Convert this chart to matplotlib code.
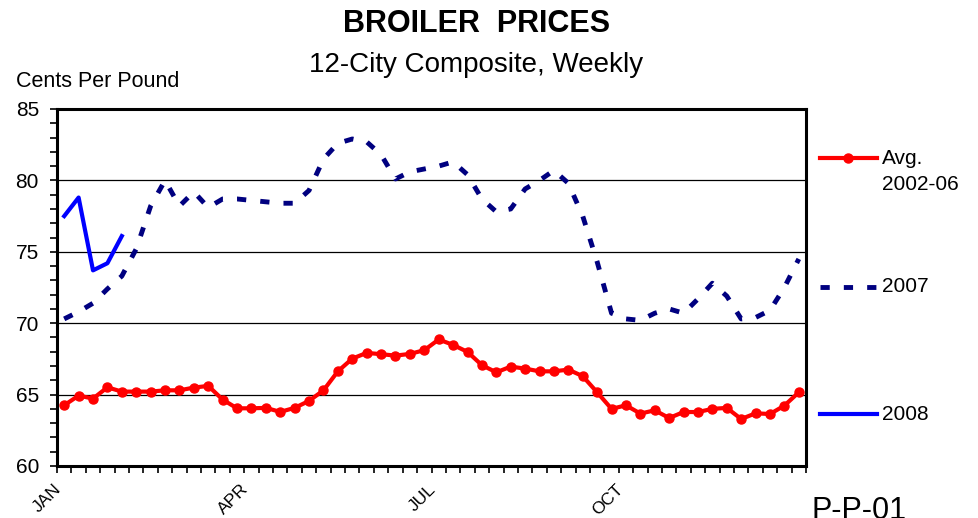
import matplotlib
matplotlib.use("Agg")
import matplotlib.pyplot as plt
import matplotlib.transforms as mtransforms
from matplotlib.lines import Line2D
from matplotlib.ticker import MultipleLocator
import numpy as np

# ---------------- data ----------------
avg_2002_06 = [64.25, 64.93, 64.72, 65.51, 65.21, 65.21, 65.21, 65.30, 65.30, 65.49,
               65.61, 64.65, 64.04, 64.04, 64.07, 63.79, 64.07, 64.56, 65.30, 66.63,
               67.52, 67.92, 67.83, 67.73, 67.85, 68.11, 68.86, 68.48, 67.99, 67.06,
               66.56, 66.96, 66.82, 66.63, 66.63, 66.75, 66.29, 65.16, 64.00, 64.25,
               63.67, 63.90, 63.36, 63.78, 63.78, 64.00, 64.07, 63.29, 63.69, 63.64,
               64.23, 65.16]
y2007 = [70.3, 70.8, 71.4, 72.4, 73.3, 75.2, 78.2, 80.0, 78.2, 79.2,
         78.1, 78.7, 78.7, 78.6, 78.5, 78.4, 78.4, 79.3, 81.5, 82.6,
         82.9, 82.7, 81.8, 80.1, 80.6, 80.8, 81.0, 81.3, 80.4, 78.7,
         77.8, 78.0, 79.4, 80.0, 80.7, 79.8, 77.5, 74.3, 70.7, 70.3,
         70.2, 70.7, 71.0, 70.7, 71.7, 72.8, 71.9, 70.3, 70.4, 70.9,
         72.5, 74.5]
y2008 = [77.5, 78.8, 73.7, 74.2, 76.1]
month_labels = ["JAN", "APR", "JUL", "OCT"]
month_weeks = [0, 13, 26, 39]
series_labels = ["Avg.\n2002-06", "2007", "2008"]

weeks = np.arange(len(avg_2002_06)) + 0.5

plt.rcParams['font.family'] = ['Liberation Sans', 'DejaVu Sans']

W, H = 979, 518
fig = plt.figure(figsize=(W / 100, H / 100), dpi=100)
ax = fig.add_axes([57 / W, 1 - 466 / H, 749 / W, 357 / H])

red, navy, blue = '#FF0000', '#000080', '#0000FF'
dash = (0, (1.9, 2.9))

ax.plot(weeks, avg_2002_06, color=red, lw=3, marker='o', ms=6.5, zorder=3)
ax.plot(weeks[:len(y2007)], y2007, color=navy, lw=3.5, ls=dash, zorder=3)
ax.plot(weeks[:len(y2008)], y2008, color=blue, lw=3, zorder=4)

ax.set_xlim(0, 52)
ax.set_ylim(60, 85)
ax.yaxis.set_major_locator(MultipleLocator(5))
ax.yaxis.set_minor_locator(MultipleLocator(1))
ax.set_xticks(np.arange(0, 53))
ax.set_xticklabels([])
ax.tick_params(axis='both', which='both', direction='out', length=5, width=1.2, color='black')
ax.tick_params(axis='y', which='major', labelsize=15, pad=8)
ax.grid(axis='y', which='major', color='black', lw=0.9)
for s in ax.spines.values():
    s.set_linewidth(2.2)

# month labels
base = mtransforms.blended_transform_factory(ax.transData, ax.transAxes)
for w, lab in zip(month_weeks, month_labels):
    off = mtransforms.ScaledTranslation(2 / 100, -21 / 100, fig.dpi_scale_trans)
    ax.text(w, 0, lab, transform=base + off, rotation=45, ha='right', va='center',
            rotation_mode='anchor', fontsize=12.5)

# titles
fig.text(477 / W, 1 - 32 / H, "BROILER  PRICES", ha='center', va='baseline',
         fontsize=22, weight='bold')
fig.text(476 / W, 1 - 72 / H, "12-City Composite, Weekly", ha='center', va='baseline',
         fontsize=20)
fig.text(16 / W, 1 - 87 / H, "Cents Per Pound", ha='left', va='baseline', fontsize=15.5)
fig.text(812 / W, 1 - 519 / H, "P-P-01", ha='left', va='baseline', fontsize=22)

# legend (manual to mimic layout)
leg_y = [158, 287, 414]
styles = [dict(color=red, lw=3), dict(color=navy, lw=3.5, ls=dash), dict(color=blue, lw=3)]
for yy, st, lab in zip(leg_y, styles, series_labels):
    fy = 1 - yy / H
    fig.add_artist(Line2D([820 / W, 877 / W], [fy, fy], transform=fig.transFigure, **st))
    if lab.startswith("Avg"):
        fig.add_artist(Line2D([848.5 / W], [fy], transform=fig.transFigure, marker='o',
                              ms=6.5, color=red, lw=0))
        fig.text(882 / W, 1 - (yy - 9) / H, lab, ha='left', va='top', fontsize=15,
                 linespacing=1.45)
    else:
        fig.text(882 / W, fy, lab, ha='left', va='center', fontsize=15)

fig.savefig("out.png", dpi=100)
